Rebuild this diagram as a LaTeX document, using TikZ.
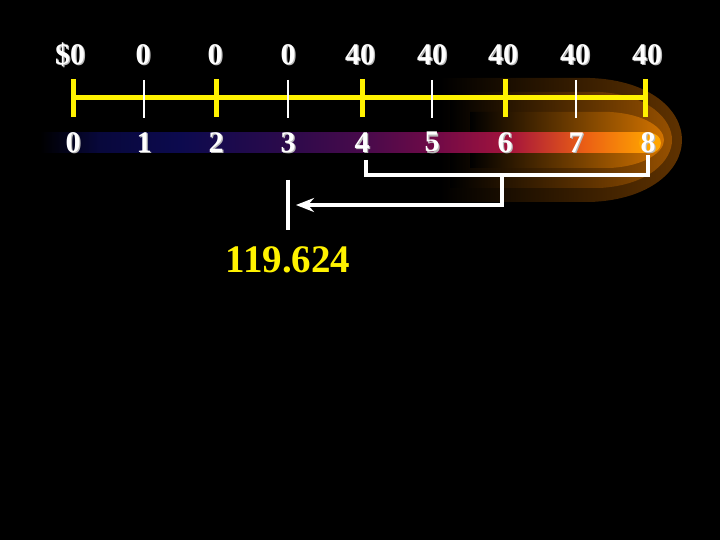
\documentclass[tikz,border=0pt]{standalone}
\usepackage{fontspec}
\setmainfont{Liberation Serif}
\usetikzlibrary{arrows.meta}
\definecolor{ca}{RGB}{8,8,60}
\definecolor{cb}{RGB}{12,10,78}
\definecolor{cc}{RGB}{45,10,75}
\definecolor{cd}{RGB}{75,10,75}
\definecolor{ce}{RGB}{115,10,70}
\definecolor{cf}{RGB}{165,20,60}
\definecolor{cg}{RGB}{235,95,20}
\definecolor{ch}{RGB}{255,165,0}
\definecolor{g1}{RGB}{95,50,0}
\definecolor{g2}{RGB}{150,80,0}
\definecolor{g3}{RGB}{210,115,0}
\newcommand\shtxt[1]{\rlap{\kern1.4pt\raisebox{-1.4pt}{\textcolor{gray!55}{#1}}}#1}
\tikzset{
  lbl/.style={text=white,font=\bfseries\fontsize{30}{32}\selectfont,inner sep=0pt,anchor=center},
  major/.style={draw=yellow,line width=5pt},
  minor/.style={draw=white,line width=1.5pt},
  bracket/.style={draw=white,line width=4.5pt},
}
\begin{document}
\begin{tikzpicture}[x=1pt,y=-1pt]
\fill[black] (0,0) rectangle (720,540);
\useasboundingbox (0,0) rectangle (720,540);
% glow layers
\shade[left color=black,right color=g1]
  (440,78) -- (590,78) .. controls (650,80) and (682,110) .. (682,140)
  .. controls (682,170) and (650,200) .. (590,202) -- (440,202) -- cycle;
\shade[left color=black,right color=g2]
  (450,92) -- (600,92) .. controls (650,95) and (672,120) .. (672,140)
  .. controls (672,160) and (650,185) .. (600,188) -- (450,188) -- cycle;
\shade[left color=black,right color=g3]
  (470,112) -- (610,112) .. controls (645,114) and (664,128) .. (664,140)
  .. controls (664,152) and (645,166) .. (610,168) -- (470,168) -- cycle;
% gradient bar
\shade[left color=black,right color=ca] (40,133) rectangle (100,153);
\shade[left color=ca,right color=cb] (100,133) rectangle (180,153);
\shade[left color=cb,right color=cc] (180,133) rectangle (290,153);
\shade[left color=cc,right color=cd] (290,133) rectangle (370,153);
\shade[left color=cd,right color=ce] (370,133) rectangle (440,153);
\shade[left color=ce,right color=cf] (440,133) rectangle (510,153);
\shade[left color=cf,right color=cg] (510,133) rectangle (585,153);
\shade[left color=cg,right color=ch] (585,133) rectangle (650,153);
\fill[ch] (650,143) ellipse (11 and 10);
% axis
\draw[major] (73,98) -- (645,98);
\foreach \i/\x in {0/73,2/216,4/362,6/505,8/645} {
  \draw[major] (\x,79) -- (\x,117);
}
\foreach \i/\x in {1/144,3/288,5/432,7/576} {
  \draw[minor] (\x,80) -- (\x,118);
}
% top labels
\node[lbl] (t0) at (70,55) {\shtxt{\$0}};
\node[lbl] (t1) at (143,55) {\shtxt{0}};
\node[lbl] (t2) at (215,55) {\shtxt{0}};
\node[lbl] (t3) at (288,55) {\shtxt{0}};
\node[lbl] (t4) at (360,55) {\shtxt{40}};
\node[lbl] (t5) at (432,55) {\shtxt{40}};
\node[lbl] (t6) at (503,55) {\shtxt{40}};
\node[lbl] (t7) at (575,55) {\shtxt{40}};
\node[lbl] (t8) at (647,55) {\shtxt{40}};
% bottom labels
\foreach \i/\x in {0/73,1/144,2/216,3/288,4/362,5/432,6/505,7/576,8/648} {
  \node[lbl] (b\i) at (\x,143) {\shtxt{\i}};
}
% bracket
\coordinate (l) at (366,160);
\coordinate (r) at (648,155);
\coordinate (m) at (502,175);
\draw[bracket] (l) |- (m) -| (r);
\coordinate (tip) at (296,205);
\draw[bracket,-{Stealth[length=18pt,width=14pt,inset=6pt]}] (m) |- (tip);
\coordinate (vt) at (288,180);
\coordinate (vb) at (288,230);
\draw[bracket] (vt) -- (vb);
\node[inner sep=0pt,text=yellow,font=\bfseries\fontsize{39}{41}\selectfont] (res) at (288,260) {119.624};
\end{tikzpicture}
\end{document}
